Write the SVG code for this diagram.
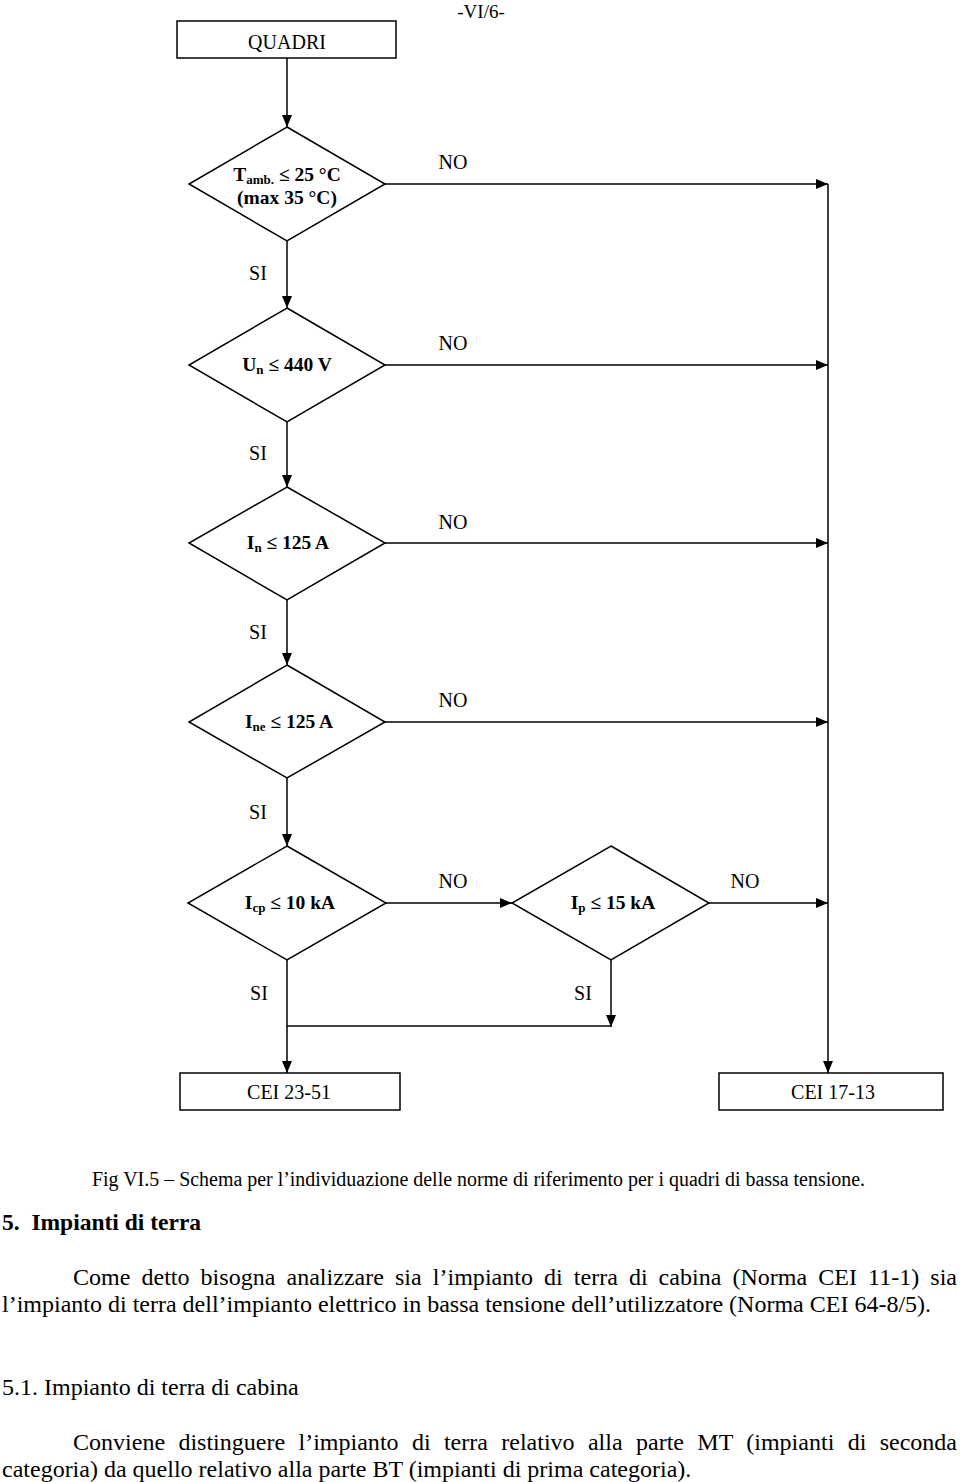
<svg xmlns="http://www.w3.org/2000/svg" width="960" height="1482" viewBox="0 0 960 1482">
<style>
  text { font-family: "Liberation Serif", "Times New Roman", serif; fill: #000; }
  .lbl { font-size: 20px; text-anchor: middle; }
  .cond { font-size: 19.5px; font-weight: bold; text-anchor: middle; }
  .sub { font-size: 13px; }
  .shape { fill: #fff; stroke: #000; stroke-width: 1.5; }
  .conn { fill: none; stroke: #000; stroke-width: 1.5; }
  .para { font-size: 24px; }
</style>
<defs>
  <marker id="ah" viewBox="0 0 12 10" refX="12" refY="5" markerWidth="12" markerHeight="10" markerUnits="userSpaceOnUse" orient="auto">
    <path d="M0,0 L12,5 L0,10 z" fill="#000"/>
  </marker>
</defs>
<rect width="960" height="1482" fill="#fff"/>

<text x="481" y="18" style="font-size:19px" text-anchor="middle">-VI/6-</text>

<g id="connectors">
  <path class="conn" d="M287,58 V127" marker-end="url(#ah)"/>
  <path class="conn" d="M287,241 V308" marker-end="url(#ah)"/>
  <path class="conn" d="M287,422 V487" marker-end="url(#ah)"/>
  <path class="conn" d="M287,600 V665" marker-end="url(#ah)"/>
  <path class="conn" d="M287,778 V846" marker-end="url(#ah)"/>
  <path class="conn" d="M385,184 H828" marker-end="url(#ah)"/>
  <path class="conn" d="M385,365 H828" marker-end="url(#ah)"/>
  <path class="conn" d="M385,543 H828" marker-end="url(#ah)"/>
  <path class="conn" d="M385,722 H828" marker-end="url(#ah)"/>
  <path class="conn" d="M386,903 H512" marker-end="url(#ah)"/>
  <path class="conn" d="M709,903 H828" marker-end="url(#ah)"/>
  <path class="conn" d="M828,184 V1073" marker-end="url(#ah)"/>
  <path class="conn" d="M611,960 V1027" marker-end="url(#ah)"/>
  <path class="conn" d="M287,1026 H611"/>
  <path class="conn" d="M287,960 V1073" marker-end="url(#ah)"/>
  <g id="conn-labels">
    <text class="lbl" x="453" y="169">NO</text>
    <text class="lbl" x="453" y="350">NO</text>
    <text class="lbl" x="453" y="529">NO</text>
    <text class="lbl" x="453" y="707">NO</text>
    <text class="lbl" x="453" y="888">NO</text>
    <text class="lbl" x="745" y="888">NO</text>
    <text class="lbl" x="258" y="280">SI</text>
    <text class="lbl" x="258" y="460">SI</text>
    <text class="lbl" x="258" y="639">SI</text>
    <text class="lbl" x="258" y="819">SI</text>
    <text class="lbl" x="259" y="1000">SI</text>
    <text class="lbl" x="583" y="1000">SI</text>
  </g>
</g>

<g id="quadri">
  <rect class="shape" x="177" y="21" width="219" height="37"/>
  <text class="lbl" x="287" y="49">QUADRI</text>
</g>

<g id="d-tamb">
  <polygon class="shape" points="287,127 385,184 287,241 189,184"/>
  <text class="cond" x="287" y="181">T<tspan class="sub" dy="3">amb.</tspan><tspan dy="-3"> ≤ 25 °C</tspan></text>
  <text class="cond" x="287" y="204">(max 35 °C)</text>
</g>

<g id="d-un">
  <polygon class="shape" points="287,308 385,365 287,422 189,365"/>
  <text class="cond" x="287" y="371">U<tspan class="sub" dy="3">n</tspan><tspan dy="-3"> ≤ 440 V</tspan></text>
</g>

<g id="d-in">
  <polygon class="shape" points="287,487 385,543 287,600 189,543"/>
  <text class="cond" x="288" y="549">I<tspan class="sub" dy="3">n</tspan><tspan dy="-3"> ≤ 125 A</tspan></text>
</g>

<g id="d-ine">
  <polygon class="shape" points="287,665 385,722 287,778 189,722"/>
  <text class="cond" x="289" y="728">I<tspan class="sub" dy="3">ne</tspan><tspan dy="-3"> ≤ 125 A</tspan></text>
</g>

<g id="d-icp">
  <polygon class="shape" points="287,846 386,903 287,960 188,903"/>
  <text class="cond" x="290" y="909">I<tspan class="sub" dy="3">cp</tspan><tspan dy="-3"> ≤ 10 kA</tspan></text>
</g>

<g id="d-ip">
  <polygon class="shape" points="611,846 709,903 611,960 512,903"/>
  <text class="cond" x="613" y="909">I<tspan class="sub" dy="3">p</tspan><tspan dy="-3"> ≤ 15 kA</tspan></text>
</g>

<g id="cei2351">
  <rect class="shape" x="180" y="1073" width="220" height="37"/>
  <text class="lbl" x="289" y="1099">CEI 23-51</text>
</g>

<g id="cei1713">
  <rect class="shape" x="719" y="1073" width="224" height="37"/>
  <text class="lbl" x="833" y="1099">CEI 17-13</text>
</g>

<text x="92" y="1186" style="font-size:20px" textLength="773" lengthAdjust="spacingAndGlyphs">Fig VI.5 –  Schema per l’individuazione delle norme di riferimento per i quadri di bassa tensione.</text>

<text x="2" y="1230" style="font-size:23.5px;font-weight:bold" xml:space="preserve">5.  Impianti di terra</text>

<text class="para" x="73" y="1285" textLength="884" lengthAdjust="spacing" word-spacing="5">Come detto bisogna analizzare sia l’impianto di terra di cabina (Norma CEI 11-1) sia</text>
<text class="para" x="2" y="1312">l’impianto di terra dell’impianto elettrico in bassa tensione dell’utilizzatore (Norma CEI 64-8/5).</text>

<text class="para" x="2" y="1395">5.1. Impianto di terra di cabina</text>

<text class="para" x="73" y="1450" textLength="884" lengthAdjust="spacing" word-spacing="7.3">Conviene distinguere l’impianto di terra relativo alla parte MT (impianti di seconda</text>
<text class="para" x="2" y="1477">categoria) da quello relativo alla parte BT (impianti di prima categoria).</text>
</svg>
